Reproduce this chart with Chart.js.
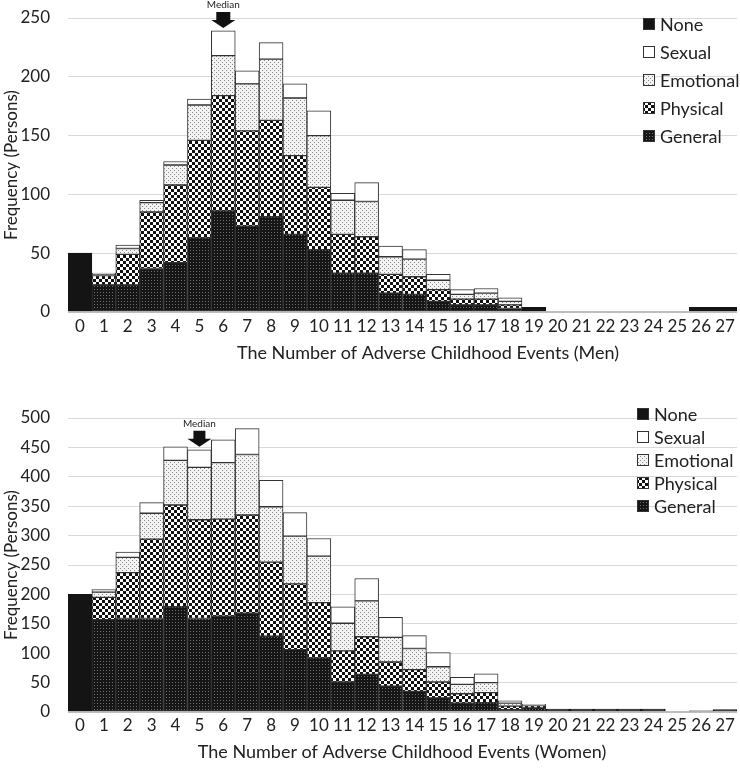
<!DOCTYPE html>
<html>
<head>
<meta charset="utf-8">
<script src="https://cdn.jsdelivr.net/npm/chart.js@4.4.0/dist/chart.umd.min.js"></script>
<style>
body { margin: 0; background: #fff; }
#cajaHombres { position: absolute; left: 0; top: 0; width: 740px; height: 372px; }
#cajaMujeres { position: absolute; left: 0; top: 372px; width: 740px; height: 400px; }
</style>
</head>
<body>
<div id="cajaHombres"><canvas id="graficoHombres" width="740" height="372"></canvas></div>
<div id="cajaMujeres"><canvas id="graficoMujeres" width="740" height="400"></canvas></div>
<script>
const categorias = ['0','1','2','3','4','5','6','7','8','9','10','11','12','13','14','15','16','17','18','19','20','21','22','23','24','25','26','27'];

// Men
const menNone      = [50, null, null, null, null, null, null, null, null, null, null, null, null, null, null, null, null, null, null, 4, null, null, null, null, null, null, 4, 4];
const menGeneral   = [null, 23, 23, 37, 42, 63, 86, 73, 81, 66, 53, 33, 33, 16, 15, 9, 6, 6, 3];
const menPhysical  = [null, 8, 26, 48, 66, 83, 98, 81, 82, 67, 53, 33, 31, 16, 15, 10, 5, 5, 3];
const menEmotional = [null, 1, 5, 8, 17, 30, 34, 40, 52, 49, 44, 29, 30, 15, 15, 8, 4, 5, 3];
const menSexual    = [null, 1, 3, 2, 3, 5, 21, 11, 14, 12, 21, 6, 16, 9, 8, 5, 4, 4, 3];
const menMedian = 6;

// Women
const womenNone      = [200, null, null, null, null, null, null, null, null, null, null, null, null, null, null, null, null, null, null, null, 5, 5, 5, 5, 5, null, 2, 4];
const womenGeneral   = [null, 157, 159, 159, 179, 159, 163, 168, 129, 106, 92, 51, 64, 44, 35, 24, 15, 16, 4, 7];
const womenPhysical  = [null, 38, 78, 135, 173, 168, 165, 167, 126, 112, 94, 53, 64, 41, 37, 27, 16, 17, 6, 4];
const womenEmotional = [null, 9, 26, 44, 76, 89, 96, 103, 94, 81, 79, 47, 61, 42, 36, 26, 16, 17, 5, 1];
const womenSexual    = [null, 4, 9, 18, 23, 30, 39, 44, 45, 40, 30, 28, 38, 34, 22, 24, 12, 15, 4, 1];
const womenMedian = 5;

const menTicksMax = 250;
const womenTicksMax = 500;

function patron(tam, fondo, tinta, puntos) {
    var c = document.createElement('canvas');
    c.width = tam;
    c.height = tam;
    var g = c.getContext('2d');
    g.fillStyle = fondo;
    g.fillRect(0, 0, tam, tam);
    g.fillStyle = tinta;
    puntos.forEach(function (p) {
        g.fillRect(p[0], p[1], p[2], p[3]);
    });
    return g.createPattern(c, 'repeat');
}

const colNone = '#141414';
const colSexual = '#ffffff';
const colEmotional = patron(4, '#f3f3f3', '#8a8a8a', [[0, 0, 1, 1], [2, 2, 1, 1]]);
const colPhysical = patron(6, '#ffffff', '#111111', [[0, 0, 3, 3], [3, 3, 3, 3]]);
const colGeneral = patron(3, '#161616', '#6e6e6e', [[1, 1, 1, 1]]);

function serie(label, data, color, borde) {
    return {
        label: label,
        data: data,
        backgroundColor: color,
        borderColor: borde,
        borderWidth: 1,
        borderSkipped: false,
        barPercentage: 1,
        categoryPercentage: 1
    };
}

const medianPlugin = {
    id: 'median',
    afterDatasetsDraw(chart, args, opts) {
        var ctx = chart.ctx;
        var x = chart.scales.x.getPixelForValue(opts.index);
        var total = 0;
        chart.data.datasets.forEach(function (ds) { total += ds.data[opts.index] || 0; });
        var tip = chart.scales.y.getPixelForValue(total) - 3;
        ctx.save();
        ctx.fillStyle = '#111';
        ctx.beginPath();
        ctx.moveTo(x - opts.shaft, tip - 16);
        ctx.lineTo(x + opts.shaft, tip - 16);
        ctx.lineTo(x + opts.shaft, tip - 8);
        ctx.lineTo(x + 12, tip - 8);
        ctx.lineTo(x, tip);
        ctx.lineTo(x - 12, tip - 8);
        ctx.lineTo(x - opts.shaft, tip - 8);
        ctx.closePath();
        ctx.fill();
        ctx.font = '10px Lato';
        ctx.fillStyle = '#222';
        ctx.textAlign = 'center';
        ctx.textBaseline = 'middle';
        ctx.fillText('Median', x, tip - 23);
        ctx.restore();
    }
};

// legend and x-axis title drawn by hand so they sit where the reference has them
const leyendaPlugin = {
    id: 'leyenda',
    afterDraw(chart, args, opts) {
        var ctx = chart.ctx;
        ctx.save();
        ctx.font = '18px Lato';
        ctx.textBaseline = 'middle';
        ctx.textAlign = 'left';
        opts.orden.forEach(function (idx, i) {
            var ds = chart.data.datasets[idx];
            var y = opts.y + i * opts.gap;
            ctx.fillStyle = ds.backgroundColor;
            ctx.fillRect(opts.x, y - 6, 12, 12);
            ctx.strokeStyle = '#333';
            ctx.lineWidth = 1;
            ctx.strokeRect(opts.x + 0.5, y - 5.5, 11, 11);
            ctx.fillStyle = '#222';
            ctx.fillText(ds.label, opts.x + 17, y + 1);
        });
        ctx.fillStyle = '#222';
        ctx.textAlign = 'center';
        ctx.fillText(opts.titulo, opts.tituloX, opts.tituloY);
        ctx.restore();
    }
};

function crearGrafico(id, series, maxY, cfg) {
    return new Chart(document.getElementById(id), {
        type: 'bar',
        data: {
            labels: categorias,
            datasets: [
                serie('General', series.general, colGeneral, '#333'),
                serie('Physical', series.physical, colPhysical, '#333'),
                serie('Emotional', series.emotional, colEmotional, '#333'),
                serie('Sexual', series.sexual, colSexual, '#333'),
                serie('None', series.none, colNone, colNone)
            ]
        },
        options: {
            responsive: false,
            animation: false,
            layout: { padding: { top: cfg.top, right: 3, left: 0, bottom: 0 } },
            plugins: {
                legend: { display: false },
                tooltip: { enabled: false },
                median: { index: cfg.median, shaft: cfg.shaft },
                leyenda: {
                    x: cfg.legX, y: cfg.legY, gap: cfg.legGap, orden: [4, 3, 2, 1, 0],
                    titulo: cfg.titulo, tituloX: cfg.tituloX, tituloY: cfg.tituloY
                }
            },
            scales: {
                x: {
                    stacked: true,
                    grid: { display: false, drawTicks: false },
                    border: { display: false },
                    ticks: { padding: cfg.tickPad, autoSkip: false, maxRotation: 0, color: '#222', font: { family: 'Lato', size: 17 } },
                    afterFit: function (s) { s.height = 60; }
                },
                y: {
                    stacked: true,
                    min: 0,
                    max: maxY,
                    ticks: { stepSize: 50, padding: 18, color: '#222', font: { family: 'Lato', size: 17 } },
                    grid: {
                        drawTicks: false,
                        color: function (c) { return c.tick && c.tick.value === 0 ? '#bdbdbd' : '#d9d9d9'; },
                        lineWidth: function (c) { return c.tick && c.tick.value === 0 ? 2 : 1; }
                    },
                    border: { display: false },
                    title: { display: true, text: 'Frequency (Persons)', color: '#222', font: { family: 'Lato', size: 17 }, padding: { top: 1, bottom: 0 } },
                    afterFit: function (s) {
                        s.width = 68;
                        s.paddingTop = 0;
                        s.paddingBottom = 0;
                    }
                }
            }
        },
        plugins: [medianPlugin, leyendaPlugin]
    });
}

crearGrafico('graficoHombres', {
    none: menNone, general: menGeneral, physical: menPhysical, emotional: menEmotional, sexual: menSexual
}, menTicksMax, {
    top: 18, tickPad: 4, median: menMedian, shaft: 7,
    legX: 643, legY: 24, legGap: 28,
    titulo: 'The Number of Adverse Childhood Events (Men)', tituloX: 428, tituloY: 353
});

crearGrafico('graficoMujeres', {
    none: womenNone, general: womenGeneral, physical: womenPhysical, emotional: womenEmotional, sexual: womenSexual
}, womenTicksMax, {
    top: 46, tickPad: 3, median: womenMedian, shaft: 6,
    legX: 637, legY: 42, legGap: 23,
    titulo: 'The Number of Adverse Childhood Events (Women)', tituloX: 402, tituloY: 380
});
</script>
</body>
</html>
